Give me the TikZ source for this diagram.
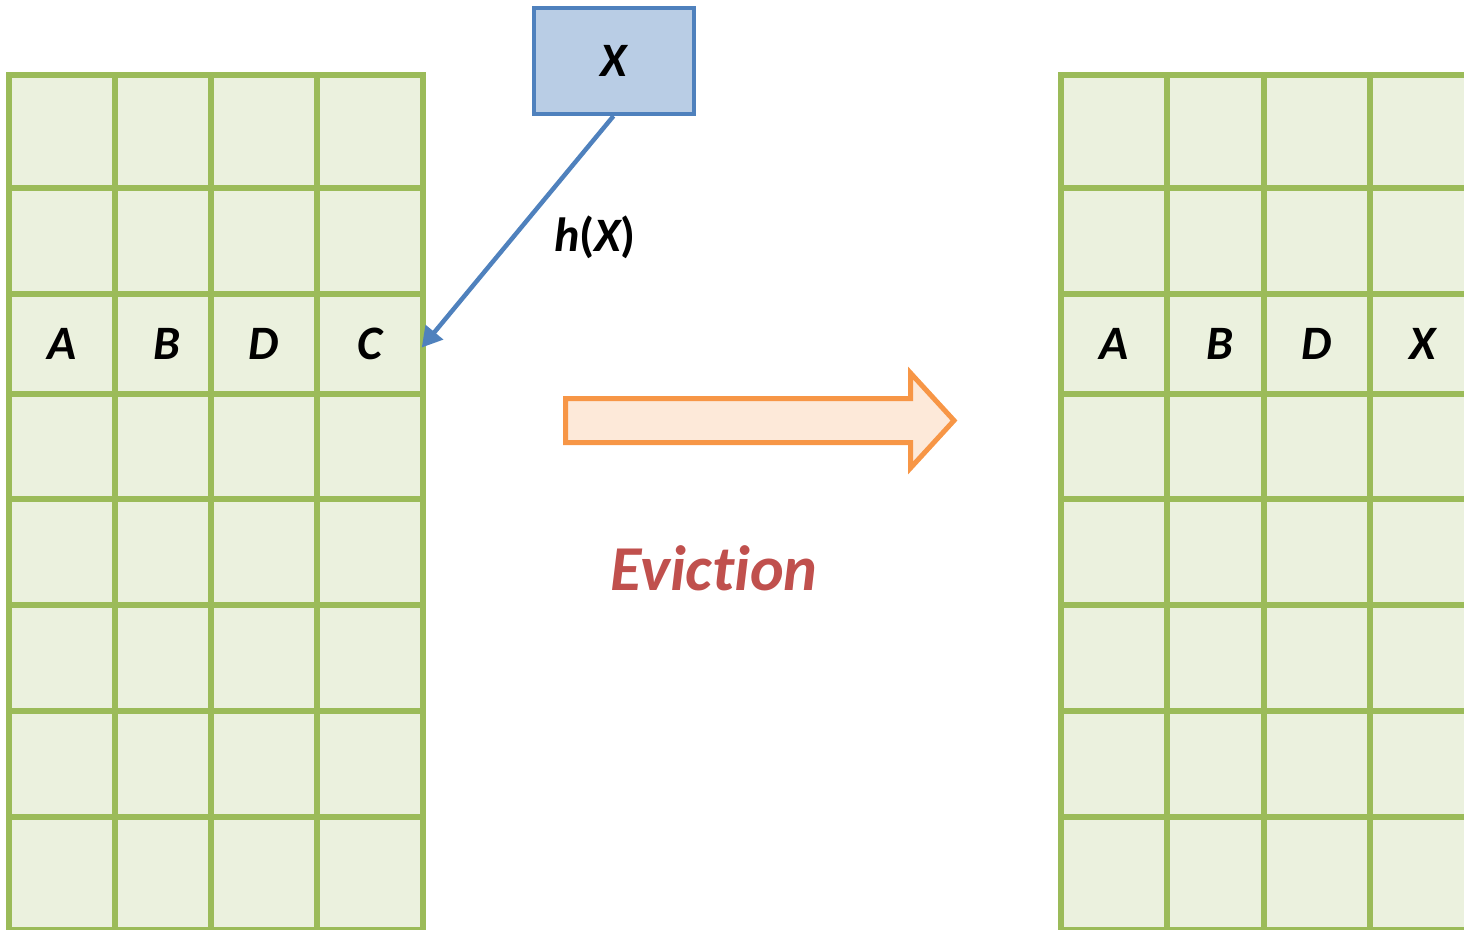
\documentclass[tikz,border=0pt]{standalone}
\usepackage{fontspec}
\setmainfont[Ligatures=NoCommon]{Carlito}
\usetikzlibrary{arrows.meta}

\definecolor{gridline}{HTML}{9BBB59}
\definecolor{gridfill}{HTML}{EBF1DE}
\definecolor{keyline}{HTML}{4F81BD}
\definecolor{keyfill}{HTML}{B9CDE5}
\definecolor{moveline}{HTML}{F79646}
\definecolor{movefill}{HTML}{FDE9D9}
\definecolor{evictred}{HTML}{C0504D}

\begin{document}
\begin{tikzpicture}[x=1pt,y=-1pt,
  cell/.style={draw=gridline, fill=gridfill, line width=5.5pt, inner sep=0pt, outer sep=0pt},
  letter/.style={inner sep=0pt, font=\fontsize{48}{58}\selectfont\bfseries\itshape},
  keybox/.style={draw=keyline, fill=keyfill, line width=4pt, minimum width=160pt, minimum height=106pt, inner sep=0pt, font=\fontsize{48}{58}\selectfont\bfseries\itshape},
  hashlink/.style={draw=keyline, line width=4.5pt, -{Triangle[length=20pt,width=22pt]}},
  movearrow/.style={draw=moveline, fill=movefill, line width=5pt, line join=miter},
  caption/.style={text=evictred, inner sep=0pt, font=\fontsize{64}{76}\selectfont\bfseries\itshape}]

\useasboundingbox (0,0) rectangle (1464,929);
\clip (0,0) rectangle (1464,929);

% two tables of 8 rows x 4 slots; L = before, R = after
\foreach \side/\cols in {L/{9/115,115/211,211/317,317/423}, R/{1061/1167,1167/1264,1264/1370,1370/1476}}{
  \foreach \ya/\yb [count=\r] in {75/188,188/294,294/394,394/499,499/605,605/711,711/817,817/930}{
    \foreach \xa/\xb [count=\c] in \cols{
      \pgfmathsetmacro\cw{\xb-\xa}
      \pgfmathsetmacro\ch{\yb-\ya}
      \node[cell, minimum width=\cw pt, minimum height=\ch pt] (\side-\r-\c) at ({(\xa+\xb)/2},{(\ya+\yb)/2}) {};
    }
  }
}

% stored keys in the bucket row
\node[letter] (lA) at (L-3-1) {A};
\node[letter] (lB) at ([xshift=4pt]L-3-2) {B};
\node[letter] (lD) at (L-3-3) {D};
\node[letter] (lC) at (L-3-4) {C};
\node[letter] (rA) at (R-3-1) {A};
\node[letter] (rB) at ([xshift=4pt]R-3-2) {B};
\node[letter] (rD) at (R-3-3) {D};
\node[letter] (rX) at (R-3-4) {X};

% incoming key and its hash target
\node[keybox] (key) at (613.5,61) {X};
\draw[hashlink, shorten >=-2pt] (key.south) -- ([yshift=-2pt]L-3-4.east);
\node[letter] (hx) at (595,237) {h{\upshape(}X{\upshape)}};

% block arrow between the two states
\draw[movearrow] (565.5,398.5) -- (910.5,398.5) -- (910.5,373) -- (954,420.5)
  -- (910.5,468) -- (910.5,442.5) -- (565.5,442.5) -- cycle;
\node[caption] (evict) at (714,568) {Eviction};

\end{tikzpicture}
\end{document}
